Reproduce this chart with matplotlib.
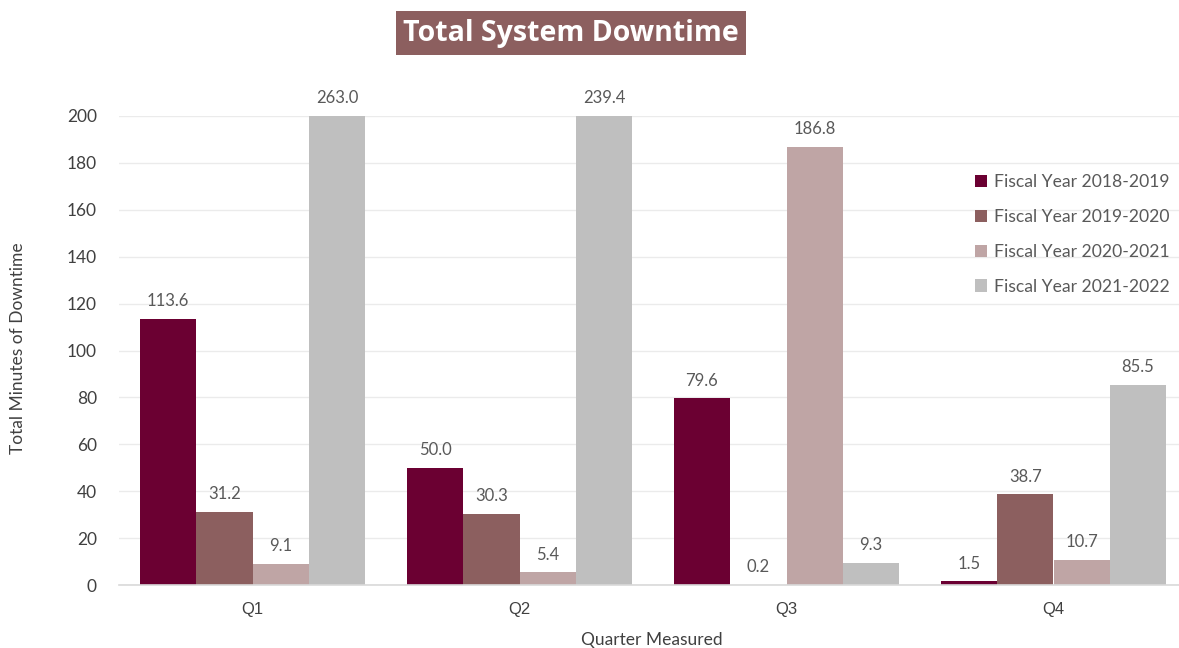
import numpy as np
import matplotlib.pyplot as plt
from matplotlib.patches import Patch

quarters = ["Q1", "Q2", "Q3", "Q4"]
series_names = ["Fiscal Year 2018-2019", "Fiscal Year 2019-2020",
                "Fiscal Year 2020-2021", "Fiscal Year 2021-2022"]
fy_2018_2019 = [113.6, 50.0, 79.6, 1.5]
fy_2019_2020 = [31.2, 30.3, 0.2, 38.7]
fy_2020_2021 = [9.1, 5.4, 186.8, 10.7]
fy_2021_2022 = [263.0, 239.4, 9.3, 85.5]
colors = ["#6B0032", "#8C5F5F", "#BFA5A5", "#BFBFBF"]

y_ticks = [0, 20, 40, 60, 80, 100, 120, 140, 160, 180, 200]
y_max = 200

series = [fy_2018_2019, fy_2019_2020, fy_2020_2021, fy_2021_2022]

W, H = 1179, 648
fig = plt.figure(figsize=(W / 100, H / 100), dpi=100)
fig.patch.set_facecolor("white")
ax_left, ax_bottom, ax_top = 119, 585, 116
ax = fig.add_axes([ax_left / W, (H - ax_bottom) / H, (W - ax_left) / W,
                   (ax_bottom - ax_top) / H])

font = ["Lato", "DejaVu Sans"]
text_grey = "#595959"

x = np.arange(len(quarters))
bar_w = 0.211
offsets = (np.arange(4) - 1.5) * bar_w

for vals, off, col, name in zip(series, offsets, colors, series_names):
    ax.bar(x + off, vals, width=bar_w, color=col, label=name, zorder=2)
    for xi, v in zip(x + off, vals):
        ax.annotate(f"{v:.1f}", (xi, min(v, y_max)), xytext=(0, 7),
                    textcoords="offset points", ha="center", va="bottom",
                    fontsize=12, color=text_grey, family=font,
                    annotation_clip=False)

ax.set_ylim(0, y_max)
ax.set_xlim(-0.5, -0.5 + (W - ax_left) / 267)
ax.set_yticks(y_ticks)
ax.set_yticklabels([str(t) for t in y_ticks], fontsize=12.5, color="#404040",
                   family=font)
ax.set_xticks(x)
ax.set_xticklabels(quarters, fontsize=12, color="#404040",
                   family=["Liberation Sans", "DejaVu Sans"])
ax.tick_params(axis="y", length=0, pad=16)
ax.tick_params(axis="x", length=0, pad=12)
ax.grid(axis="y", color="#EBEBEB", linewidth=1, zorder=0)
for side in ["top", "right", "left"]:
    ax.spines[side].set_visible(False)
ax.spines["bottom"].set_color("#D9D9D9")
ax.spines["bottom"].set_linewidth(1.2)
ax.set_facecolor("white")

fig.text(18 / W, 1 - 348 / H, "Total Minutes of Downtime", rotation=90,
         ha="center", va="center", fontsize=12.5, color="#404040", family=font)
fig.text(652 / W, 1 - 640 / H, "Quarter Measured", ha="center", va="center",
         fontsize=12.5, color="#404040", family=font)

fig.text(571 / W, 1 - 33 / H, "Total System Downtime", ha="center",
         va="center", fontsize=20.5, fontweight="bold", color="white",
         family=["Open Sans", "DejaVu Sans"],
         bbox=dict(boxstyle="square,pad=0.25", facecolor="#8C5F5F",
                   edgecolor="none"))

handles = [Patch(facecolor=c, edgecolor="none") for c in colors]
ax_w = W - ax_left
ax_h = ax_bottom - ax_top
leg = ax.legend(handles, series_names, loc="upper left",
                bbox_to_anchor=((968 - ax_left) / ax_w, 1 - (167 - ax_top) / ax_h),
                frameon=False, prop={"family": font, "size": 12.6},
                handlelength=0.7, handleheight=0.7, handletextpad=0.4,
                labelspacing=1.08, borderaxespad=0)
for t in leg.get_texts():
    t.set_color(text_grey)

fig.savefig("out.png", dpi=100, facecolor="white")
